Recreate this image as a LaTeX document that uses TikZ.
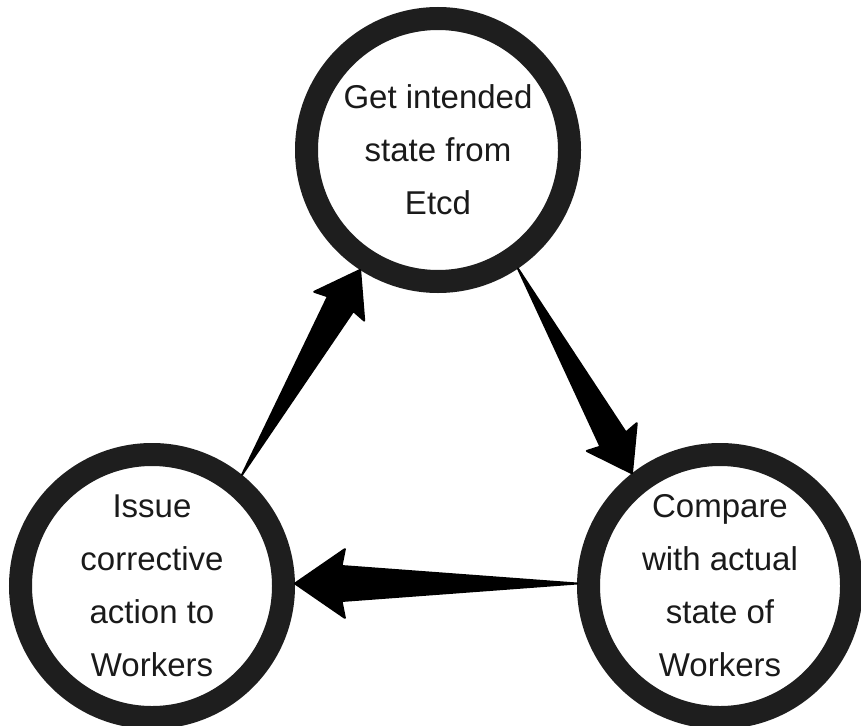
\documentclass[tikz,border=0pt]{standalone}
\usepackage{fontspec}
\setmainfont{Liberation Sans}
\usetikzlibrary{calc}

\definecolor{ring}{RGB}{30,30,30}
\definecolor{ink}{RGB}{26,26,26}

% Tapered arrow: a wedge from a pointed tail (#1) to the tip (#2),
% with a swept-back head; all sizes scale with the arrow's length.
\newcommand\wedgearrow[2]{%
  \filldraw[wedge] (#1)
    -- ($($(#1)!0.835!(#2)$)!0.376!90:(#2)$)
    -- ($($(#1)!0.823!(#2)$)!0.689!90:(#2)$)
    -- (#2)
    -- ($($(#1)!0.823!(#2)$)!0.689!-90:(#2)$)
    -- ($($(#1)!0.835!(#2)$)!0.376!-90:(#2)$)
    -- cycle;}

\begin{document}
\begin{tikzpicture}[x=1pt,y=-1pt,
  stage/.style={circle, draw=ring, line width=23pt, minimum size=263pt,
    inner sep=0pt, align=center, text=ink,
    font=\fontsize{33}{53}\selectfont},
  wedge/.style={fill=black, draw=black, line width=2pt, line join=round}]
  \fill[white] (0,0) rectangle (861,725);
  \useasboundingbox (0,0) rectangle (861,725);

  \node[stage] (top)   at (438,150) {Get intended\\state from\\Etcd};
  \node[stage] (left)  at (152,586) {Issue\\corrective\\action to\\Workers};
  \node[stage] (right) at (720,586) {Compare\\with actual\\state of\\Workers};

  \wedgearrow{left.51}{top.237}
  \wedgearrow{top.304}{right.128}
  \wedgearrow{right.179}{left.1}
\end{tikzpicture}
\end{document}
